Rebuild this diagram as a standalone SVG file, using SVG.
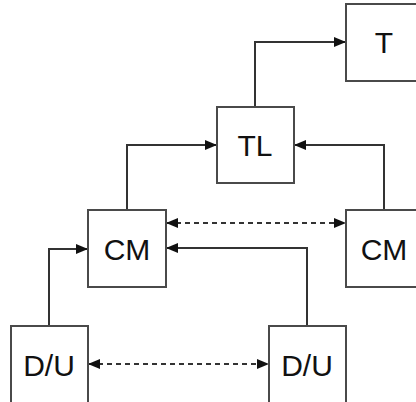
<svg xmlns="http://www.w3.org/2000/svg" width="416" height="402" viewBox="0 0 416 402">
<style>
.box{fill:#fff;stroke:#4a4a4a;stroke-width:2}
.lbl{font-family:"Liberation Sans",Arial,sans-serif;font-size:30px;fill:#111;text-anchor:middle}
.ln{fill:none;stroke:#333;stroke-width:2}
.dash{stroke-dasharray:5,4}
</style>
<defs>
<marker id="ah" markerUnits="userSpaceOnUse" markerWidth="12" markerHeight="10" refX="11" refY="5" orient="auto-start-reverse" viewBox="0 0 12 10">
<path d="M0,0 L12,5 L0,10 Z" fill="#111"/>
</marker>
</defs>
<g id="connectors">
<path class="ln" d="M255,107 V42 H345" marker-end="url(#ah)"/>
<path class="ln" d="M127,210 V145 H216" marker-end="url(#ah)"/>
<path class="ln" d="M384,210 V145 H295" marker-end="url(#ah)"/>
<path class="ln dash" d="M167,223 H345" marker-start="url(#ah)" marker-end="url(#ah)"/>
<path class="ln" d="M49,326 V249 H87" marker-end="url(#ah)"/>
<path class="ln" d="M307,326 V248 H167" marker-end="url(#ah)"/>
<path class="ln dash" d="M89,364 H268" marker-start="url(#ah)" marker-end="url(#ah)"/>
</g>
<g id="node-T"><rect class="box" x="346" y="4" width="77" height="77"/><text class="lbl" x="384" y="53">T</text></g>
<g id="node-TL"><rect class="box" x="217" y="107" width="77" height="76"/><text class="lbl" x="255" y="156">TL</text></g>
<g id="node-CM-left"><rect class="box" x="88" y="210" width="78" height="77"/><text class="lbl" x="127" y="259.5">CM</text></g>
<g id="node-CM-right"><rect class="box" x="346" y="210" width="77" height="77"/><text class="lbl" x="384" y="259.5">CM</text></g>
<g id="node-DU-left"><rect class="box" x="11" y="326" width="77" height="77"/><text class="lbl" x="49" y="375.5">D/U</text></g>
<g id="node-DU-right"><rect class="box" x="269" y="326" width="77" height="77"/><text class="lbl" x="307" y="375.5">D/U</text></g>
</svg>
